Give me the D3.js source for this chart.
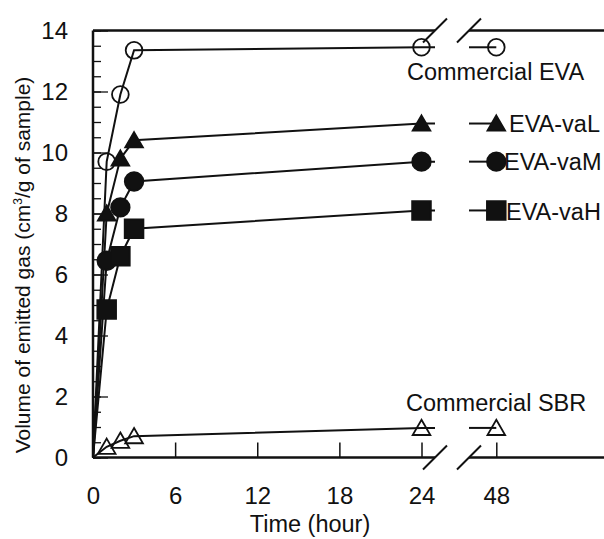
<!DOCTYPE html>
<html>
<head>
<meta charset="utf-8">
<script src="https://cdn.jsdelivr.net/npm/d3@7"></script>
<style>
  body { margin: 0; background: #fff; }
  svg { display: block; font-family: "Liberation Sans", Arial, sans-serif; }
</style>
</head>
<body>
<svg></svg>
<script>
var width = 604;
var height = 539;

// hours sampled before the axis break, plus the 48 h point after it
var hours = [0, 1, 2, 3, 24];
var lateHour = 48;
var seriesNames = ['Commercial EVA', 'EVA-vaL', 'EVA-vaM', 'EVA-vaH', 'Commercial SBR'];
var commercialEVA = [0, 9.7, 11.9, 13.35, 13.45];
var evaVaL = [0, 8.0, 9.8, 10.4, 10.95];
var evaVaM = [0, 6.45, 8.2, 9.05, 9.7];
var evaVaH = [0, 4.85, 6.6, 7.5, 8.1];
var commercialSBR = [0, 0.35, 0.55, 0.7, 0.97];
var lateValues = [13.45, 10.95, 9.7, 8.1, 0.97];
var xTicks = [0, 6, 12, 18, 24, 48];
var yTicks = [0, 2, 4, 6, 8, 10, 12, 14];

var allSeries = [commercialEVA, evaVaL, evaVaM, evaVaH, commercialSBR];
var symbols = [
    {type: d3.symbolCircle, size: 220, fill: 'none'},
    {type: d3.symbolTriangle, size: 135, fill: '#111'},
    {type: d3.symbolCircle, size: 270, fill: '#111'},
    {type: d3.symbolSquare, size: 350, fill: '#111'},
    {type: d3.symbolTriangle, size: 135, fill: 'none'}
];

// broken time axis: 0-24 linear, then jump to 48
var x = d3.scaleLinear()
          .domain([0, 24, 48])
          .range([93, 421.5, 496.3]);
var y = d3.scaleLinear()
          .domain([0, 14])
          .range([457.5, 30.5]);

var breakL = 435;
var breakR = 469;

var svg = d3.select('svg')
            .attr('width', width)
            .attr('height', height);

// axes
svg.append('g')
    .attr('transform', `translate(0, ${y(0)})`)
    .call(d3.axisBottom(x).tickValues(xTicks).tickSizeInner(-15).tickSizeOuter(0).tickPadding(29))
    .call(g => g.select('.domain').remove())
    .call(g => g.selectAll('line').attr('stroke', '#111').attr('stroke-width', 1.5))
    .call(g => g.selectAll('text').attr('font-size', 24).attr('fill', '#111').attr('font-family', null));

svg.append('g')
    .attr('transform', `translate(${x(0)}, 0)`)
    .call(d3.axisLeft(y).tickValues(d3.range(0, 14.01, 0.5)).tickSizeInner(-8).tickSizeOuter(0).tickFormat(''))
    .call(g => g.select('.domain').remove())
    .call(g => g.selectAll('line').attr('stroke', '#111').attr('stroke-width', 1.3));

svg.append('g')
    .attr('transform', `translate(${x(0)}, 0)`)
    .call(d3.axisLeft(y).tickValues(yTicks).tickSizeInner(-15).tickSizeOuter(0).tickPadding(25))
    .call(g => g.select('.domain').remove())
    .call(g => g.selectAll('line').attr('stroke', '#111').attr('stroke-width', 1.3))
    .call(g => g.selectAll('text').attr('font-size', 24).attr('fill', '#111').attr('font-family', null));

// frame with breaks
var frame = svg.append('g')
    .attr('stroke', '#111')
    .attr('stroke-width', 2.5)
    .attr('fill', 'none');
frame.append('line').attr('x1', x(0)).attr('x2', x(0)).attr('y1', y(14)).attr('y2', y(0));
[y(0), y(14)].forEach(function(yy) {
    frame.append('line').attr('x1', x(0)).attr('x2', breakL).attr('y1', yy).attr('y2', yy);
    frame.append('line').attr('x1', breakR).attr('x2', width).attr('y1', yy).attr('y2', yy);
    [breakL, breakR].forEach(function(bx) {
        frame.append('line')
            .attr('stroke-width', 2)
            .attr('x1', bx - 12).attr('y1', yy + 12)
            .attr('x2', bx + 12).attr('y2', yy - 12);
    });
});

// series lines
var line = d3.line()
             .x(d => x(d[0]))
             .y(d => y(d[1]));

allSeries.forEach(function(values, i) {
    var pts = hours.map((h, j) => [h, values[j]]);
    var g = svg.append('g').classed('series', true);
    g.append('path')
        .attr('d', line(pts) + `L${breakL},${y(values[values.length - 1])}`)
        .attr('fill', 'none')
        .attr('stroke', '#111')
        .attr('stroke-width', 2);
    g.append('line')
        .attr('x1', breakR).attr('x2', x(lateHour))
        .attr('y1', y(lateValues[i])).attr('y2', y(lateValues[i]))
        .attr('stroke', '#111')
        .attr('stroke-width', 2);

    var sym = d3.symbol().type(symbols[i].type).size(symbols[i].size);
    var markers = pts.slice(1).concat([[lateHour, lateValues[i]]]);
    g.selectAll('.mark')
        .data(markers)
        .enter()
        .append('path')
            .classed('mark', true)
            .attr('transform', d => `translate(${x(d[0])}, ${y(d[1]) + (symbols[i].type === d3.symbolTriangle ? 2 : 0)})`)
            .attr('d', sym)
            .attr('fill', symbols[i].fill)
            .attr('stroke', '#111')
            .attr('stroke-width', 1.8);
});

// series labels
var labelPos = [
    {x: 407, y: 80},
    {x: 509, y: 132},
    {x: 504, y: 170},
    {x: 506, y: 220},
    {x: 406, y: 411}
];
svg.selectAll('.label')
    .data(seriesNames)
    .enter()
    .append('text')
        .classed('label', true)
        .attr('x', (d, i) => labelPos[i].x)
        .attr('y', (d, i) => labelPos[i].y)
        .attr('font-size', 23.5)
        .attr('fill', '#111')
        .text(d => d);

// axis titles
svg.append('text')
    .attr('x', 310)
    .attr('y', 532)
    .attr('text-anchor', 'middle')
    .attr('font-size', 23.5)
    .attr('fill', '#111')
    .text('Time (hour)');

var yTitle = svg.append('text')
    .attr('transform', 'translate(30, 265) rotate(-90)')
    .attr('text-anchor', 'middle')
    .attr('font-size', 21)
    .attr('fill', '#111');
yTitle.append('tspan').text('Volume of emitted gas (cm');
yTitle.append('tspan').attr('font-size', 12).attr('dy', -8).text('3');
yTitle.append('tspan').attr('dy', 8).text('/g of sample)');
</script>
</body>
</html>
